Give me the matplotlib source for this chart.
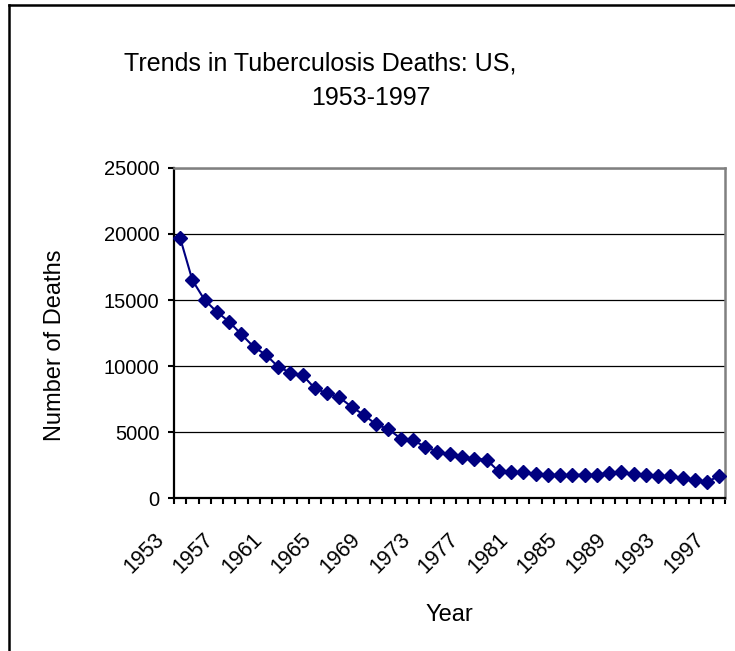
import matplotlib
matplotlib.use("Agg")
import matplotlib.pyplot as plt
import matplotlib.transforms as mtransforms
from matplotlib.lines import Line2D
import numpy as np

plt.rcParams['font.family'] = ['Liberation Sans', 'DejaVu Sans']

# TB deaths per year, US
years = list(range(1953, 1998))
deaths = [19700, 16500, 15000, 14100, 13350, 12400, 11450, 10850, 9940, 9500,
          9300, 8300, 7930, 7620, 6900, 6290, 5570, 5220, 4500, 4380,
          3880, 3510, 3330, 3130, 2970, 2910, 2010, 1980, 1940, 1810,
          1780, 1730, 1750, 1780, 1760, 1920, 1970, 1810, 1710, 1700,
          1630, 1480, 1340, 1200, 1700]
year_labels = [str(y) for y in years[::4]]
y_ticks = [0, 5000, 10000, 15000, 20000, 25000]

W, H = 735, 651
fig = plt.figure(figsize=(W / 100, H / 100), dpi=100)
ax = fig.add_axes([174 / W, 1 - 498 / H, (725.5 - 174) / W, (498 - 168) / H])

x = np.arange(len(years))
ax.plot(x, deaths, color='#000080', marker='D', ms=7.5, lw=1.5,
        markeredgecolor='#000080', clip_on=False, zorder=3)

ax.set_ylim(0, 25000)
ax.set_yticks(y_ticks)
ax.set_yticklabels([str(v) for v in y_ticks], fontsize=14.5)
ax.yaxis.grid(True, color='black', lw=0.9)
ax.set_axisbelow(True)

# category axis: ticks between categories, labels every fourth year
ax.set_xlim(-0.5, len(years) - 0.5)
ax.set_xticks(np.arange(len(years) + 1) - 0.5)
ax.set_xticklabels([])
ax.set_xticks(x[::4], minor=True)
ax.set_xticklabels(year_labels, minor=True, rotation=45, ha='right',
                   rotation_mode='anchor', fontsize=15.5)
ax.tick_params(axis='x', which='minor', length=0, pad=0)
ax.tick_params(axis='both', which='major', direction='out', length=4.5,
               width=1.5, color='black')
ax.tick_params(axis='y', pad=6)

shift = mtransforms.ScaledTranslation(-26 / 100, -31 / 100, fig.dpi_scale_trans)
for lab in ax.get_xticklabels(minor=True):
    lab.set_transform(lab.get_transform() + shift)

for side in ('left', 'bottom'):
    ax.spines[side].set_color('black')
    ax.spines[side].set_linewidth(1.6)
for side in ('top', 'right'):
    ax.spines[side].set_color('#808080')
    ax.spines[side].set_linewidth(1.8)

fig.text(320 / W, 1 - 64 / H, 'Trends in Tuberculosis Deaths: US,',
         ha='center', va='center', fontsize=18)
fig.text(371 / W, 1 - 98 / H, '1953-1997', ha='center', va='center', fontsize=18)
fig.text(55 / W, 1 - 345 / H, 'Number of Deaths', rotation=90,
         ha='center', va='center', fontsize=17)
fig.text(449 / W, 1 - 615 / H, 'Year', ha='center', va='center', fontsize=17)

# chart frame edges
fig.add_artist(Line2D([9 / W, 9 / W], [0, 1 - 5 / H], color='black', lw=1.8,
                      transform=fig.transFigure))
fig.add_artist(Line2D([9 / W, 1], [1 - 5 / H, 1 - 5 / H], color='black', lw=1.8,
                      transform=fig.transFigure))

fig.savefig('out.png', dpi=100)
